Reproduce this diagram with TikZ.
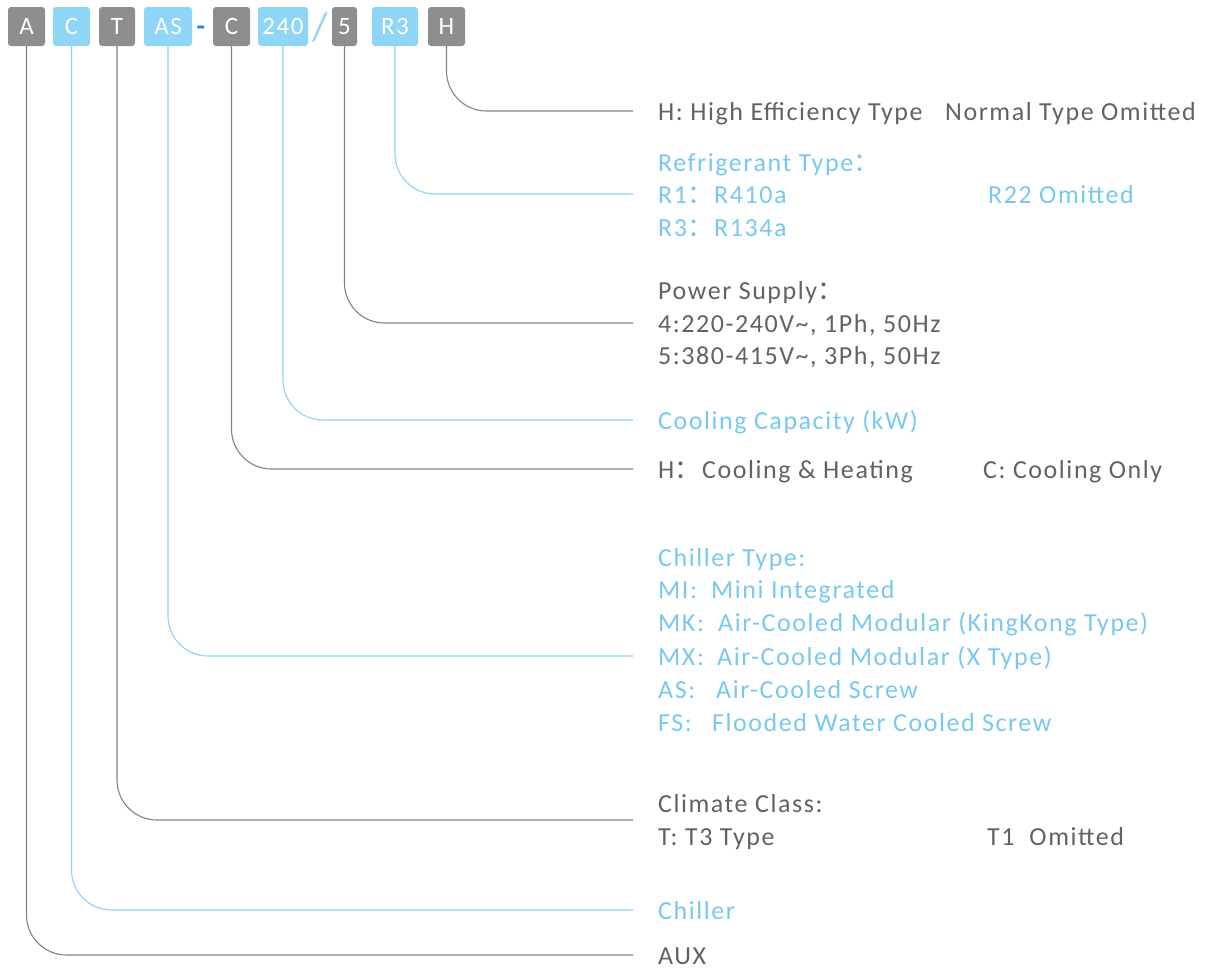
\documentclass[tikz,border=0pt]{standalone}
\usepackage{fontspec}
\setmainfont{Carlito}[LetterSpace=6]
\newfontfamily\cjk{Noto Sans CJK SC}
\newcommand\fcol{{\cjk ：}}
\definecolor{gtxt}{RGB}{98,98,98}
\definecolor{btxt}{RGB}{120,200,240}
\definecolor{gbox}{RGB}{142,142,145}
\definecolor{bbox}{RGB}{143,213,245}
\definecolor{gline}{RGB}{130,130,130}
\definecolor{bline}{RGB}{140,210,242}
\definecolor{dashblue}{RGB}{30,140,210}
\begin{document}
\begin{tikzpicture}[x=1pt,y=-1pt,
  code/.style={rounded corners=3pt, minimum height=39pt, inner sep=0pt, text=white, font=\fontsize{25}{25}\selectfont},
  gcode/.style={code, fill=gbox},
  bcode/.style={code, fill=bbox},
  gt/.style={anchor=base west, text=gtxt, font=\fontsize{26}{30}\selectfont, inner sep=0pt},
  bt/.style={gt, text=btxt},
  gl/.style={draw=gline, line width=1.1pt, rounded corners=40pt},
  bl/.style={gl, draw=bline}]
\useasboundingbox (0,0) rectangle (1213,970);
% code boxes
\node[gcode, minimum width=37pt] (bA) at (26.5,26.5) {A};
\node[bcode, minimum width=37pt] (bC) at (71.5,26.5) {C};
\node[gcode, minimum width=36pt] (bT) at (117,26.5) {T};
\node[bcode, minimum width=48pt] (bAS) at (168,26.5) {AS};
\node[text=dashblue, font=\fontsize{28}{28}\selectfont\bfseries, inner sep=0pt] (dsh) at (201,31) {-};
\node[gcode, minimum width=37pt] (bC2) at (231.5,26.5) {C};
\node[bcode, minimum width=50pt] (b240) at (283,26.5) {240};
\node[text=bbox, font=\fontsize{40}{40}\selectfont, inner sep=0pt] (sl) at (320,27) {/};
\node[gcode, minimum width=25pt] (b5) at (344.5,26.5) {5};
\node[bcode, minimum width=46pt] (bR3) at (395,26.5) {R3};
\node[gcode, minimum width=37pt] (bH) at (446.5,26.5) {H};
% line ends
\coordinate (eH) at (633,111);
\coordinate (eR3) at (633,194);
\coordinate (e5) at (633,323);
\coordinate (e240) at (633,420);
\coordinate (eC2) at (633,469);
\coordinate (eAS) at (633,656);
\coordinate (eT) at (633,820);
\coordinate (eC) at (633,910);
\coordinate (eA) at (633,955);
\draw[gl] (bH.south) |- (eH);
\draw[bl] (bR3.south) |- (eR3);
\draw[gl] (b5.south) |- (e5);
\draw[bl] (b240.south) |- (e240);
\draw[gl] (bC2.south) |- (eC2);
\draw[bl] (bAS.south) |- (eAS);
\draw[gl] (bT.south) |- (eT);
\draw[bl] (bC.south) |- (eC);
\draw[gl] (bA.south) |- (eA);
% texts
\node[gt] (tH) at (658,120) {H: High Efficiency Type};
\node[gt] (tH2) at (945,120) {Normal Type Omitted};
\node[bt] (tR0) at (658,171) {Refrigerant Type\fcol};
\node[bt] (tR1) at (658,203) {\makebox[56pt][l]{R1\fcol}R410a};
\node[bt] (tR1b) at (988,203) {R22 Omitted};
\node[bt] (tR3) at (658,236) {\makebox[56pt][l]{R3\fcol}R134a};
\node[gt] (tP0) at (658,299) {Power Supply\fcol};
\node[gt] (tP1) at (658,332) {4:220-240V\textasciitilde, 1Ph, 50Hz};
\node[gt] (tP2) at (658,364) {5:380-415V\textasciitilde, 3Ph, 50Hz};
\node[bt] (tCC) at (658,429) {Cooling Capacity (kW)};
\node[gt] (tCH) at (658,478) {\makebox[44pt][l]{H\fcol}Cooling \& Heating};
\node[gt] (tCO) at (983,478) {C: Cooling Only};
\node[bt] (tT0) at (658,566) {Chiller Type:};
\node[bt] (tT1) at (658,598) {\makebox[53pt][l]{MI:}Mini Integrated};
\node[bt] (tT2) at (658,631) {\makebox[60pt][l]{MK:}Air-Cooled Modular (KingKong Type)};
\node[bt] (tT3) at (658,665) {\makebox[59pt][l]{MX:}Air-Cooled Modular (X Type)};
\node[bt] (tT4) at (658,698) {\makebox[58pt][l]{AS:}Air-Cooled Screw};
\node[bt] (tT5) at (658,731) {\makebox[54pt][l]{FS:}Flooded Water Cooled Screw};
\node[gt] (tK0) at (658,812) {Climate Class:};
\node[gt] (tK1) at (658,845) {T: T3 Type};
\node[gt] (tK2) at (987,845) {T1\ \ Omitted};
\node[bt] (tCh) at (658,919) {Chiller};
\node[gt] (tAUX) at (658,964) {AUX};
\end{tikzpicture}
\end{document}
